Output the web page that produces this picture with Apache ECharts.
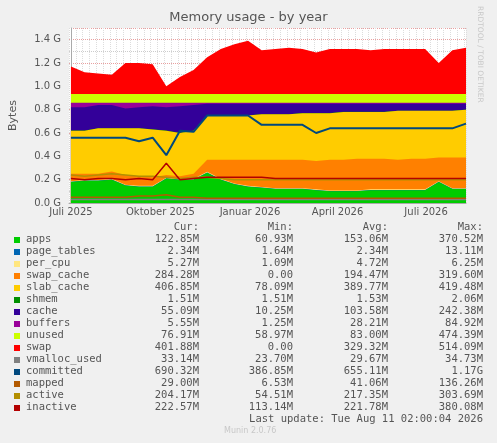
<!DOCTYPE html>
<html><head><meta charset="utf-8">
<script src="https://cdn.jsdelivr.net/npm/echarts@6/dist/echarts.min.js"></script>
<style>html,body{margin:0;padding:0;background:#f0f0f0}#c{width:497px;height:443px}</style>
</head><body><div id="c"></div>
<script>
// dates (biweekly samples)
const dates = ["2025-07-01","2025-07-15","2025-07-29","2025-08-12","2025-08-26","2025-09-09","2025-09-23","2025-10-07","2025-10-21","2025-11-04","2025-11-18","2025-12-02","2025-12-16","2025-12-30","2026-01-13","2026-01-27","2026-02-10","2026-02-24","2026-03-10","2026-03-24","2026-04-07","2026-04-21","2026-05-05","2026-05-19","2026-06-02","2026-06-16","2026-06-30","2026-07-14","2026-07-28","2026-08-11"];
// values in GiB: layer thickness for apps/page_tables/per_cpu/shmem, stack tops for the rest
const apps      = [0.18,0.19,0.19,0.20,0.15,0.14,0.14,0.21,0.20,0.20,0.26,0.20,0.16,0.14,0.13,0.12,0.12,0.12,0.11,0.10,0.10,0.10,0.11,0.11,0.11,0.11,0.11,0.18,0.12,0.12];
const pageTables= [0.002,0.002,0.002,0.002,0.002,0.002,0.002,0.002,0.002,0.002,0.002,0.002,0.002,0.002,0.002,0.002,0.002,0.002,0.002,0.002,0.002,0.002,0.002,0.002,0.002,0.002,0.002,0.002,0.002,0.002];
const perCpu    = [0.005,0.005,0.005,0.005,0.005,0.005,0.005,0.005,0.005,0.005,0.005,0.005,0.005,0.005,0.005,0.005,0.005,0.005,0.005,0.005,0.005,0.005,0.005,0.005,0.005,0.005,0.005,0.005,0.005,0.005];
const swapCacheTop=[0.25,0.25,0.25,0.27,0.24,0.23,0.22,0.24,0.23,0.25,0.37,0.37,0.37,0.37,0.37,0.37,0.37,0.37,0.36,0.37,0.37,0.38,0.38,0.38,0.37,0.38,0.38,0.39,0.39,0.39];
const slabTop   = [0.62,0.62,0.64,0.64,0.64,0.64,0.63,0.62,0.60,0.62,0.75,0.75,0.75,0.75,0.76,0.76,0.76,0.77,0.77,0.77,0.78,0.78,0.78,0.78,0.79,0.79,0.79,0.79,0.79,0.80];
const shmem     = [0.0015,0.0015,0.0015,0.0015,0.0015,0.0015,0.0015,0.0015,0.0015,0.0015,0.0015,0.0015,0.0015,0.0015,0.0015,0.0015,0.0015,0.0015,0.0015,0.0015,0.0015,0.0015,0.0015,0.0015,0.0015,0.0015,0.0015,0.0015,0.0015,0.0015];
const cacheTop  = [0.82,0.82,0.84,0.84,0.81,0.82,0.83,0.82,0.83,0.84,0.85,0.85,0.85,0.85,0.85,0.85,0.85,0.85,0.85,0.85,0.85,0.85,0.85,0.85,0.85,0.85,0.85,0.85,0.85,0.85];
const buffersTop= [0.86,0.86,0.86,0.86,0.86,0.86,0.86,0.86,0.86,0.86,0.86,0.86,0.86,0.86,0.86,0.86,0.86,0.86,0.86,0.86,0.86,0.86,0.86,0.86,0.86,0.86,0.86,0.86,0.86,0.86];
const unusedTop = [0.935,0.935,0.935,0.935,0.935,0.935,0.935,0.935,0.935,0.935,0.935,0.935,0.935,0.935,0.935,0.935,0.935,0.935,0.935,0.935,0.935,0.935,0.935,0.935,0.935,0.935,0.935,0.935,0.935,0.935];
const swapTop   = [1.17,1.12,1.11,1.10,1.20,1.20,1.19,1.00,1.08,1.14,1.25,1.32,1.36,1.39,1.31,1.32,1.33,1.32,1.29,1.32,1.32,1.32,1.31,1.32,1.32,1.32,1.32,1.20,1.31,1.33];
const vmalloc   = [0.03,0.03,0.03,0.03,0.03,0.03,0.03,0.03,0.03,0.03,0.03,0.03,0.03,0.03,0.03,0.03,0.03,0.03,0.03,0.03,0.03,0.03,0.03,0.03,0.03,0.03,0.03,0.03,0.03,0.03];
const committed = [0.56,0.56,0.56,0.56,0.56,0.53,0.56,0.41,0.62,0.61,0.75,0.75,0.75,0.75,0.67,0.67,0.67,0.67,0.60,0.64,0.64,0.64,0.64,0.64,0.64,0.64,0.64,0.64,0.64,0.68];
const mapped    = [0.05,0.05,0.05,0.05,0.05,0.06,0.06,0.07,0.05,0.05,0.04,0.04,0.04,0.04,0.04,0.04,0.04,0.04,0.04,0.04,0.04,0.04,0.04,0.04,0.04,0.04,0.04,0.04,0.04,0.04];
const active    = [0.24,0.23,0.24,0.25,0.24,0.23,0.23,0.22,0.21,0.22,0.22,0.21,0.20,0.20,0.20,0.20,0.20,0.20,0.20,0.20,0.20,0.20,0.20,0.20,0.20,0.20,0.20,0.20,0.20,0.20];
const inactive  = [0.21,0.20,0.21,0.21,0.20,0.21,0.20,0.34,0.20,0.21,0.22,0.22,0.22,0.22,0.22,0.21,0.21,0.21,0.21,0.21,0.21,0.21,0.21,0.21,0.21,0.21,0.21,0.21,0.21,0.21];
const yTicks = [0,0.2,0.4,0.6,0.8,1.0,1.2,1.4];
const monthLabels = [["2025-07-01","Juli 2025"],["2025-10-01","Oktober 2025"],["2026-01-01","Januar 2026"],["2026-04-01","April 2026"],["2026-07-01","Juli 2026"]];
const legendRows = [
 ["apps","#00CC00","122.85M","60.93M","153.06M","370.52M"],
 ["page_tables","#0066B3","2.34M","1.64M","2.34M","13.11M"],
 ["per_cpu","#FFE680","5.27M","1.09M","4.72M","6.25M"],
 ["swap_cache","#FF8000","284.28M","0.00","194.47M","319.60M"],
 ["slab_cache","#FFCC00","406.85M","78.09M","389.77M","419.48M"],
 ["shmem","#008F00","1.51M","1.51M","1.53M","2.06M"],
 ["cache","#330099","55.09M","10.25M","103.58M","242.38M"],
 ["buffers","#990099","5.55M","1.25M","28.21M","84.92M"],
 ["unused","#CCFF00","76.91M","58.97M","83.00M","474.39M"],
 ["swap","#FF0000","401.88M","0.00","329.32M","514.09M"],
 ["vmalloc_used","#808080","33.14M","23.70M","29.67M","34.73M"],
 ["committed","#00487D","690.32M","386.85M","655.11M","1.17G"],
 ["mapped","#B35A00","29.00M","6.53M","41.06M","136.26M"],
 ["active","#B38F00","204.17M","54.51M","217.35M","303.69M"],
 ["inactive","#B30000","222.57M","113.14M","221.78M","380.08M"]];

const t0 = Date.parse("2025-07-01");
const day = d => (Date.parse(d) - t0) / 86400000;
const xs = dates.map(day);
const pair = arr => arr.map((v,i)=>[xs[i], v]);
const add = (a,b)=>a.map((v,i)=>v+b[i]);
const tApps = apps;
const tPT = add(tApps,pageTables);
const tCpu = add(tPT,perCpu);
const tSwc = swapCacheTop.map((v,i)=>Math.max(v,tCpu[i]));
const tSlab = slabTop;
const tShm = add(tSlab,shmem);
const colors = Object.fromEntries(legendRows.map(r=>[r[0],r[1]]));
// cumulative tops; drawn from the top layer down so lower layers cover higher ones
const layers = [['swap',swapTop],['unused',unusedTop],['buffers',buffersTop],['cache',cacheTop],['shmem',tShm],['slab_cache',tSlab],['swap_cache',tSwc],['per_cpu',tCpu],['page_tables',tPT],['apps',tApps]];
const area = (name,data)=>({name,type:'line',data:pair(data),symbol:'none',lineStyle:{width:0},areaStyle:{color:colors[name],opacity:1,origin:'start'},itemStyle:{color:colors[name]},z:1});
const line = (name,data,w)=>({name,type:'line',data:pair(data),symbol:'none',lineStyle:{width:w,color:colors[name]},itemStyle:{color:colors[name]},z:3});

const mono = "'DejaVu Sans Mono', monospace";
const g = [];
const fs = 10.5;
[["Cur:",199],["Min:",293],["Avg:",388],["Max:",483]].forEach(([t,x])=>g.push({type:'text',right:497-x,top:222,style:{text:t,font:`${fs}px ${mono}`,fill:'#555'}}));
legendRows.forEach((r,i)=>{
  const y = 234 + i*12;
  g.push({type:'rect',shape:{x:14,y:y+3,width:6,height:6},style:{fill:r[1]}});
  g.push({type:'text',left:26,top:y,style:{text:r[0],font:`${fs}px ${mono}`,fill:'#555'}});
  [199,293,388,483].forEach((x,j)=>g.push({type:'text',right:497-x,top:y,style:{text:r[2+j],font:`${fs}px ${mono}`,fill:'#555'}}));
});
g.push({type:'text',right:14,top:414,style:{text:'Last update: Tue Aug 11 02:00:04 2026',font:`${fs}px ${mono}`,fill:'#555'}});
g.push({type:'text',left:224,top:427,style:{text:'Munin 2.0.76',font:"8px 'DejaVu Sans'",fill:'#c8c8c8'}});
g.push({type:'text',x:484,y:6,rotation:-Math.PI/2,style:{text:'RRDTOOL / TOBI OETIKER',font:"7.5px 'DejaVu Sans'",fill:'#c8c8c8'}});

const chart = echarts.init(document.getElementById('c'));
chart.setOption({
  backgroundColor:'#f0f0f0', animation:false,
  title:{text:'Memory usage - by year',left:'center',top:6,textStyle:{fontFamily:'DejaVu Sans',fontSize:13,fontWeight:'normal',color:'#555'}},
  grid:{left:67,right:31,top:28,bottom:240,show:true,backgroundColor:'#ffffff',borderWidth:0},
  xAxis:{type:'value',min:-2,max:406,interval:7,
    axisLine:{lineStyle:{color:'#aaa'}},axisTick:{show:false},
    axisLabel:{customValues:monthLabels.map(m=>day(m[0])),formatter:v=>{const m=monthLabels.find(m=>Math.abs(day(m[0])-v)<0.5);return m?m[1]:'';},fontFamily:'DejaVu Sans',fontSize:10,color:'#555',margin:4},
    splitLine:{show:true,lineStyle:{color:'#ddd',type:'dotted'}}},
  yAxis:{type:'value',min:0,max:1.5,interval:0.2,name:'Bytes',nameLocation:'middle',nameGap:50,nameRotate:90,
    nameTextStyle:{fontFamily:'DejaVu Sans',fontSize:11,color:'#555'},
    axisLine:{show:true,lineStyle:{color:'#aaa'}},axisTick:{show:false},
    axisLabel:{showMaxLabel:false,formatter:v=>yTicks.some(t=>Math.abs(t-v)<1e-6)?v.toFixed(1)+' G':'',fontFamily:'DejaVu Sans',fontSize:10,color:'#555'},
    splitLine:{lineStyle:{color:'#e8a0a0',type:'dotted'}},
    minorTick:{show:false,splitNumber:2},minorSplitLine:{show:true,lineStyle:{color:'#ccc',type:'dotted'}}},
  series:[
    ...layers.map(([n,d])=>area(n,d)),
    line('vmalloc_used',vmalloc,1.5),line('committed',committed,2),line('mapped',mapped,1.5),
    line('active',active,1.5),line('inactive',inactive,1.5)],
  graphic:g
});
</script></body></html>
